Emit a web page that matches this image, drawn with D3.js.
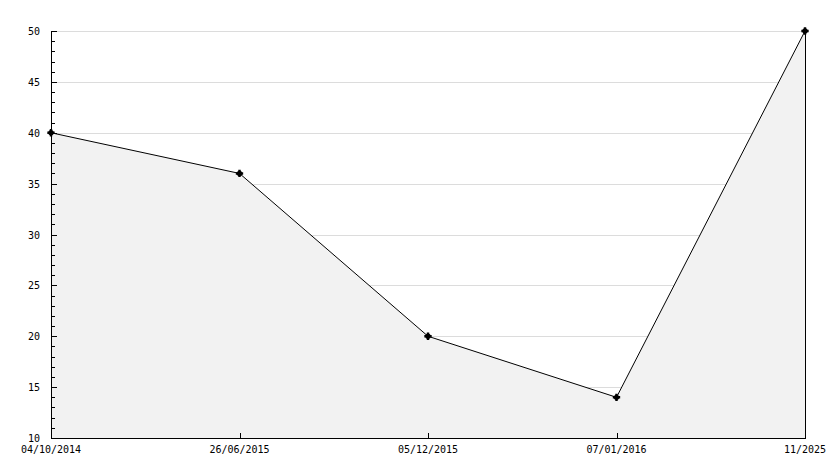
<!DOCTYPE html>
<html>
<head>
<meta charset="utf-8">
<script src="https://cdn.jsdelivr.net/npm/d3@7"></script>
<style>
  body { margin: 0; background: #fff; }
  svg text { font-family: "DejaVu Sans Mono", monospace; font-size: 10px; fill: #000; }
</style>
</head>
<body>
<div id="vis"></div>
<script>
var dateLabels = ['04/10/2014', '26/06/2015', '05/12/2015', '07/01/2016', '11/2025'];
var values = [40, 36, 20, 14, 50];
var yTicks = [10, 15, 20, 25, 30, 35, 40, 45, 50];

var width = 834;
var height = 468;
var margin = {top: 31, right: 29, bottom: 30, left: 51};

var svg = d3.select('#vis').append('svg')
    .attr('width', width)
    .attr('height', height);

var x = d3.scalePoint()
    .domain(dateLabels)
    .range([margin.left, width - margin.right]);

var y = d3.scaleLinear()
    .domain([10, 50])
    .range([height - margin.bottom, margin.top]);

var data = dateLabels.map(function (d, i) {
    return {label: d, value: values[i]};
});

// grid
svg.append('g')
    .selectAll('line')
    .data(yTicks.slice(1))
    .enter().append('line')
    .attr('x1', margin.left)
    .attr('x2', width - margin.right)
    .attr('y1', function (d) { return Math.round(y(d)) + 0.5; })
    .attr('y2', function (d) { return Math.round(y(d)) + 0.5; })
    .attr('stroke', '#dcdcdc')
    .attr('stroke-width', 1);

// area
var area = d3.area()
    .x(function (d) { return x(d.label); })
    .y0(y(10))
    .y1(function (d) { return y(d.value); });

svg.append('path')
    .datum(data)
    .attr('d', area)
    .attr('fill', '#f2f2f2');

// right edge of area
svg.append('line')
    .attr('x1', x(dateLabels[dateLabels.length - 1]) + 0.5)
    .attr('x2', x(dateLabels[dateLabels.length - 1]) + 0.5)
    .attr('y1', y(values[values.length - 1]))
    .attr('y2', y(10))
    .attr('stroke', '#000');

var line = d3.line()
    .x(function (d) { return x(d.label); })
    .y(function (d) { return y(d.value); });

svg.append('path')
    .datum(data)
    .attr('d', line)
    .attr('fill', 'none')
    .attr('stroke', '#000')
    .attr('stroke-width', 1);

// y axis with minor ticks
var yMinor = d3.range(10, 51, 1);
svg.append('g')
    .selectAll('line')
    .data(yMinor)
    .enter().append('line')
    .attr('x1', margin.left)
    .attr('x2', function (d) { return d % 5 === 0 ? margin.left + 6 : margin.left + 4; })
    .attr('y1', function (d) { return Math.round(y(d)) + 0.5; })
    .attr('y2', function (d) { return Math.round(y(d)) + 0.5; })
    .attr('stroke', '#000');

svg.append('line')
    .attr('x1', margin.left + 0.5)
    .attr('x2', margin.left + 0.5)
    .attr('y1', margin.top)
    .attr('y2', y(10))
    .attr('stroke', '#000');

svg.append('line')
    .attr('x1', margin.left)
    .attr('x2', width - margin.right + 1)
    .attr('y1', Math.round(y(10)) + 0.5)
    .attr('y2', Math.round(y(10)) + 0.5)
    .attr('stroke', '#000');

// x ticks
svg.append('g')
    .selectAll('line')
    .data(dateLabels.slice(1, -1))
    .enter().append('line')
    .attr('x1', function (d) { return Math.round(x(d)) + 0.5; })
    .attr('x2', function (d) { return Math.round(x(d)) + 0.5; })
    .attr('y1', Math.round(y(10)))
    .attr('y2', Math.round(y(10)) - 5)
    .attr('stroke', '#000');

svg.append('g')
    .selectAll('text')
    .data(yTicks)
    .enter().append('text')
    .attr('x', margin.left - 11)
    .attr('y', function (d) { return y(d) + 4; })
    .attr('text-anchor', 'end')
    .text(function (d) { return d; });

// x labels
svg.append('g')
    .selectAll('text')
    .data(dateLabels)
    .enter().append('text')
    .attr('x', function (d) { return x(d); })
    .attr('y', y(10) + 15)
    .attr('text-anchor', 'middle')
    .text(function (d) { return d; });

// markers
var markers = svg.append('g')
    .selectAll('g')
    .data(data)
    .enter().append('g')
    .attr('transform', function (d) { return 'translate(' + x(d.label) + ',' + y(d.value) + ')'; });

markers.append('path')
    .attr('d', d3.symbol().type(d3.symbolCircle).size(22))
    .attr('fill', '#000');

markers.append('path')
    .attr('d', d3.symbol().type(d3.symbolCross).size(30))
    .attr('fill', '#000');
</script>
</body>
</html>
